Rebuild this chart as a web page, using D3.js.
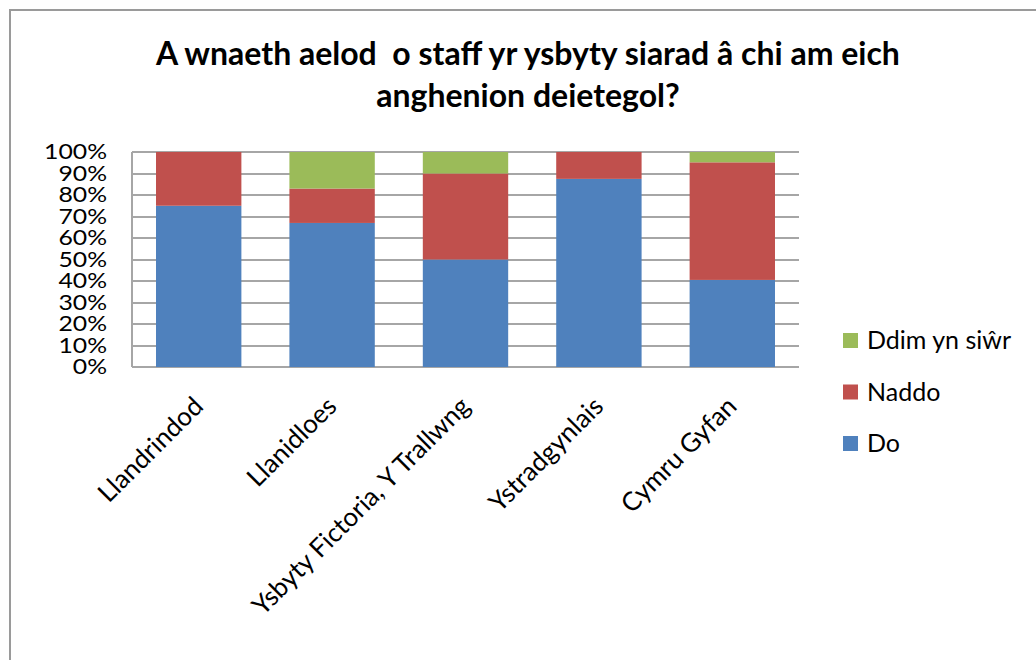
<!DOCTYPE html>
<html>
<head>
<meta charset="utf-8">
<script src="https://cdn.jsdelivr.net/npm/d3@7"></script>
<style>
  body { margin: 0; background: #fff; }
  text { font-family: Lato, "Open Sans", sans-serif; fill: #000; }
</style>
</head>
<body>
<div id="chart"></div>
<script>
// data
var categories = ["Llandrindod", "Llanidloes", "Ysbyty Fictoria, Y Trallwng", "Ystradgynlais", "Cymru Gyfan"];
var seriesNames = ["Do", "Naddo", "Ddim yn siŵr"];
var doValues = [75, 67, 50, 87.5, 40.5];
var naddoValues = [25, 16, 40, 12.5, 54.7];
var ddimValues = [0, 17, 10, 0, 4.8];
var yTicks = [0, 10, 20, 30, 40, 50, 60, 70, 80, 90, 100];
var titleLines = ["A wnaeth aelod  o staff yr ysbyty siarad â chi am eich", "anghenion deietegol?"];
var colors = {"Do": "#4f81bd", "Naddo": "#c0504d", "Ddim yn siŵr": "#9bbb59"};

var width = 1036, height = 660;
var margin = {top: 152, left: 132, right: 237, bottom: 293};

var svg = d3.select("#chart").append("svg")
    .attr("width", width)
    .attr("height", height);

// outer chart frame (runs off the right and bottom edges)
svg.append("rect")
    .attr("x", 10).attr("y", 10)
    .attr("width", width + 20).attr("height", height + 20)
    .attr("fill", "#fff")
    .attr("stroke", "#9a9a9a")
    .attr("stroke-width", 2);

// title
svg.append("g").selectAll("text")
    .data(titleLines)
    .enter().append("text")
    .attr("x", 528)
    .attr("y", function(d, i) { return 65 + i * 42; })
    .attr("text-anchor", "middle")
    .style("font-size", "32px")
    .style("font-weight", "bold")
    .style("white-space", "pre")
    .text(function(d) { return d; });

var plotW = width - margin.left - margin.right;
var plotH = height - margin.top - margin.bottom;

var x = d3.scaleBand()
    .domain(categories)
    .range([margin.left, margin.left + plotW])
    .paddingInner(0.36)
    .paddingOuter(0.18);

var y = d3.scaleLinear()
    .domain([0, 100])
    .range([margin.top + plotH, margin.top]);

// gridlines
svg.append("g").selectAll("line")
    .data(yTicks)
    .enter().append("line")
    .attr("x1", margin.left).attr("x2", margin.left + plotW)
    .attr("y1", function(d) { return Math.round(y(d)); })
    .attr("y2", function(d) { return Math.round(y(d)); })
    .attr("stroke", "#a6a6a6")
    .attr("stroke-width", 2);

// left axis line
svg.append("line")
    .attr("x1", margin.left).attr("x2", margin.left)
    .attr("y1", y(100)).attr("y2", y(0))
    .attr("stroke", "#a6a6a6")
    .attr("stroke-width", 2);

// stacked bars
var rows = categories.map(function(c, i) {
    return {cat: c, "Do": doValues[i], "Naddo": naddoValues[i], "Ddim yn siŵr": ddimValues[i]};
});
var stack = d3.stack().keys(seriesNames)(rows);

svg.append("g").selectAll("g")
    .data(stack)
    .enter().append("g")
    .attr("fill", function(d) { return colors[d.key]; })
    .selectAll("rect")
    .data(function(d) { return d; })
    .enter().append("rect")
    .attr("x", function(d) { return x(d.data.cat); })
    .attr("y", function(d) { return y(d[1]); })
    .attr("width", x.bandwidth())
    .attr("height", function(d) { return y(d[0]) - y(d[1]); });

// y axis labels (a bit wider than the font, like the reference)
var yAxis = svg.append("g")
    .attr("transform", "translate(" + (margin.left - 25) + ",0) scale(1.18,1)")
    .call(d3.axisLeft(y).tickValues(yTicks).tickSize(0).tickFormat(function(d) { return d + "%"; }));
yAxis.select(".domain").remove();
yAxis.selectAll("text")
    .attr("x", 0)
    .style("font-size", "21px")
    .style("font-family", "Lato, sans-serif")
    .attr("fill", "#222");

// x axis labels, rotated
svg.append("g").selectAll("text")
    .data(categories)
    .enter().append("text")
    .attr("transform", function(d) {
        var cx = x(d) + x.bandwidth() / 2 + 6;
        var cy = y(0) + 41;
        return "translate(" + cx + "," + cy + ") rotate(-45)";
    })
    .attr("text-anchor", "end")
    .style("font-size", "26px")
    .text(function(d) { return d; });

// legend
var legendItems = seriesNames.slice().reverse();
var legend = svg.append("g").selectAll("g")
    .data(legendItems)
    .enter().append("g")
    .attr("transform", function(d, i) { return "translate(843," + (333 + i * 51.5) + ")"; });
legend.append("rect")
    .attr("width", 15).attr("height", 15)
    .attr("fill", function(d) { return colors[d]; });
legend.append("text")
    .attr("x", 24).attr("y", 16)
    .style("font-size", "25px")
    .text(function(d) { return d; });
</script>
</body>
</html>
